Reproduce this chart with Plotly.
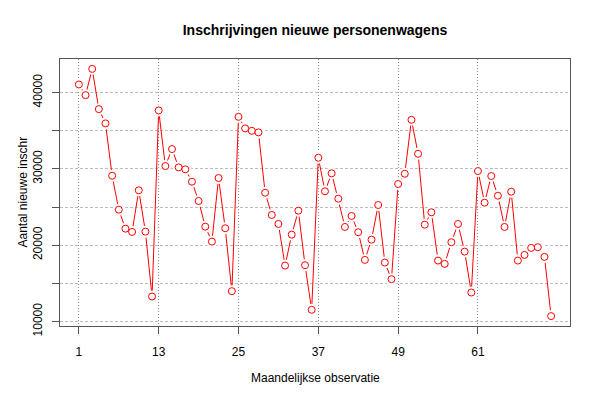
import plotly.graph_objects as go

months = list(range(1, 73))
registrations = [
    41052, 39652, 43096, 37821, 35950, 29097, 24650, 22164, 21733, 27187, 21772, 13270,
    37651, 30366, 32589, 30196, 29934, 28312, 25788, 22426, 20464, 28796, 22217, 13976,
    36814, 35297, 34983, 34774, 26873, 23956, 22779, 17325, 21380, 24519, 17377, 11530,
    31451, 27056, 29411, 26088, 22387, 23826, 21693, 18070, 20726, 25264, 17717, 15546,
    28011, 29358, 36422, 31974, 22688, 24310, 17979, 17547, 20386, 22779, 19156, 13793,
    29712, 25565, 29058, 26481, 22387, 27004, 17979, 18724, 19640, 19732, 18463, 10706,
]
x_ticks = [1, 13, 25, 37, 49, 61]
y_ticks = [10000, 15000, 20000, 25000, 30000, 35000, 40000]
y_tick_labels = ["10000", "", "20000", "", "30000", "", "40000"]

fig = go.Figure()
fig.add_trace(go.Scatter(x=months, y=registrations, mode="lines",
                         line=dict(color="red", width=1), hoverinfo="skip"))
fig.add_trace(go.Scatter(x=months, y=registrations, mode="markers",
                         marker=dict(color="white", size=12, line=dict(width=0)),
                         hoverinfo="skip"))
fig.add_trace(go.Scatter(x=months, y=registrations, mode="markers",
                         marker=dict(color="white", size=7, symbol="circle",
                                     line=dict(color="red", width=1))))

# page body has an 8px margin, so the figure is offset by 8px
W, H = 592, 392
fig.update_layout(
    width=W, height=H,
    showlegend=False,
    plot_bgcolor="white", paper_bgcolor="white",
    font=dict(family="Liberation Sans, Arial, sans-serif", size=12, color="black"),
    margin=dict(l=52, r=30, t=51, b=74, autoexpand=False),
    title=dict(text="<b>Inschrijvingen nieuwe personenwagens</b>", x=0.5, xanchor="center",
               xref="paper",
               y=1 - 22 / H, yanchor="middle", font=dict(size=14)),
    xaxis=dict(range=[-1.84, 74.84], tickmode="array", tickvals=x_ticks,
               showgrid=True, gridcolor="#888888", griddash="1px,2px", gridwidth=1,
               showline=True, linecolor="#555555", mirror=True, linewidth=1,
               ticks="outside", ticklen=7, tickcolor="#555555", zeroline=False,
               automargin=False, ticklabelstandoff=8),
    yaxis=dict(range=[9410, 44390], tickmode="array", tickvals=y_ticks, ticktext=y_tick_labels,
               tickangle=-90,
               showgrid=True, gridcolor="#bbbbbb", griddash="3px,2px", gridwidth=1,
               showline=True, linecolor="#555555", mirror=True, linewidth=1,
               ticks="outside", ticklen=7, tickcolor="#555555", zeroline=False,
               automargin=False, ticklabelstandoff=5),
    annotations=[
        dict(text="Maandelijkse observatie", xref="paper", yref="paper",
             x=0.5, y=-(378 - 326) / 267, xanchor="center", yanchor="middle",
             showarrow=False, font=dict(size=12)),
        dict(text="Aantal nieuwe inschr", xref="paper", yref="paper",
             x=-(60 - 22) / 510, y=0.5, xanchor="center", yanchor="middle",
             textangle=-90, showarrow=False, font=dict(size=12)),
    ],
)

fig.write_html("out.html")
